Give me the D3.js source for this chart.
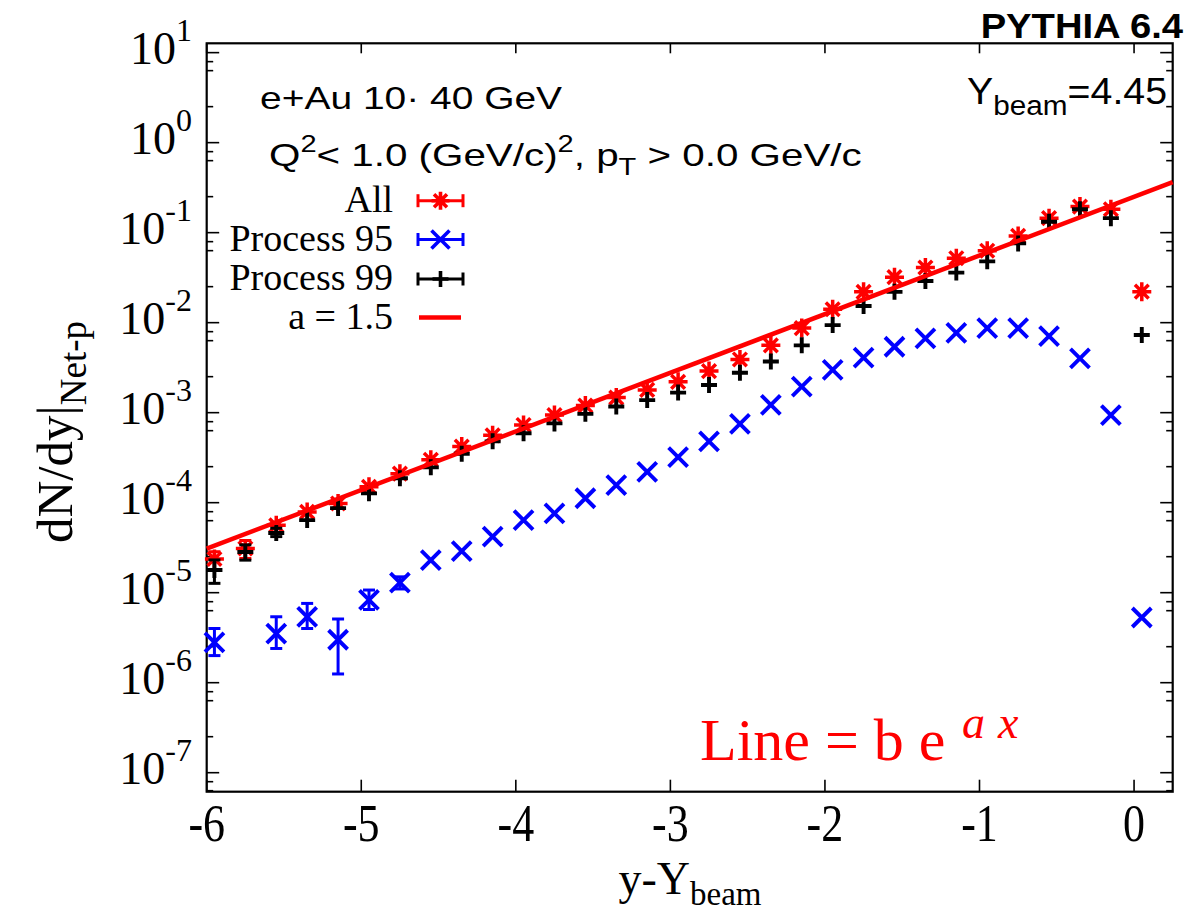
<!DOCTYPE html>
<html>
<head>
<meta charset="utf-8">
<script src="https://cdn.jsdelivr.net/npm/d3@7"></script>
<style>
  html, body { margin: 0; padding: 0; background: #fff; }
  svg { display: block; }
</style>
</head>
<body>
<svg id="chart" width="1188" height="913"></svg>
<script>
// ---------------- data ----------------
const xVals = [-5.95, -5.75, -5.55, -5.35, -5.15, -4.95, -4.75, -4.55, -4.35, -4.15,
               -3.95, -3.75, -3.55, -3.35, -3.15, -2.95, -2.75, -2.55, -2.35, -2.15,
               -1.95, -1.75, -1.55, -1.35, -1.15, -0.95, -0.75, -0.55, -0.35, -0.15, 0.05];

const allVals = [2.37e-5, 3.1e-5, 5.6e-5, 7.9e-5, 9.8e-5, 1.5e-4, 2.1e-4, 3.0e-4, 4.2e-4, 5.6e-4,
                 7.3e-4, 9.4e-4, 1.2e-3, 1.47e-3, 1.79e-3, 2.2e-3, 2.9e-3, 3.9e-3, 5.6e-3, 8.7e-3,
                 1.41e-2, 2.2e-2, 3.2e-2, 4.1e-2, 5.2e-2, 6.3e-2, 9.2e-2, 0.145, 0.195, 0.182, 0.0221];
const allLo = [1.8e-5, 2.4e-5, null, null, null, null, null, null, null, null,
               null, null, null, null, null, null, null, null, null, null,
               null, null, null, null, null, null, null, null, null, null, null];
const allHi = [2.85e-5, 3.8e-5, null, null, null, null, null, null, null, null,
               null, null, null, null, null, null, null, null, null, null,
               null, null, null, null, null, null, null, null, null, null, null];

const p95Vals = [2.8e-6, null, 3.5e-6, 5.4e-6, 3.0e-6, 8.3e-6, 1.29e-5, 2.3e-5, 2.9e-5, 4.2e-5,
                 6.4e-5, 7.6e-5, 1.12e-4, 1.57e-4, 2.2e-4, 3.2e-4, 4.8e-4, 7.5e-4, 1.22e-3, 1.95e-3,
                 2.98e-3, 4.1e-3, 5.4e-3, 6.7e-3, 7.7e-3, 8.7e-3, 8.7e-3, 7.1e-3, 4.0e-3, 9.4e-4, 5.3e-6];
const p95Lo = [2.0e-6, null, 2.4e-6, 4.0e-6, 1.25e-6, 6.5e-6, 1.1e-5, null, null, null,
               null, null, null, null, null, null, null, null, null, null,
               null, null, null, null, null, null, null, null, null, null, null];
const p95Hi = [4.0e-6, null, 5.4e-6, 7.6e-6, 5.1e-6, 1.07e-5, 1.5e-5, null, null, null,
               null, null, null, null, null, null, null, null, null, null,
               null, null, null, null, null, null, null, null, null, null, null];

const p99Vals = [1.79e-5, 2.83e-5, 4.6e-5, 6.4e-5, 8.7e-5, 1.27e-4, 1.87e-4, 2.47e-4, 3.5e-4, 4.8e-4,
                 5.9e-4, 7.6e-4, 9.7e-4, 1.17e-3, 1.38e-3, 1.67e-3, 2.03e-3, 2.78e-3, 3.7e-3, 5.6e-3,
                 9.4e-3, 1.53e-2, 2.2e-2, 2.9e-2, 3.6e-2, 4.8e-2, 7.6e-2, 0.132, 0.182, 0.145, 7.3e-3];
const p99Lo = [1.27e-5, 2.3e-5, 4.2e-5, null, null, null, null, null, null, null,
               null, null, null, null, null, null, null, null, null, null,
               null, null, null, null, null, null, null, null, null, null, null];
const p99Hi = [2.31e-5, 3.4e-5, 5.2e-5, null, null, null, null, null, null, null,
               null, null, null, null, null, null, null, null, null, null,
               null, null, null, null, null, null, null, null, null, null, null];

const fitA = 1.5, fitB = 0.25;
const xTicks = [-6, -5, -4, -3, -2, -1, 0];
const yDecades = [-7, -6, -5, -4, -3, -2, -1, 0, 1];
const minorOffsets = [-0.1, -0.2, -0.6];
const legendLabels = ["All", "Process 95", "Process 99", "a = 1.5"];

// ---------------- layout ----------------
const L = 206.7, R = 1172.7, T = 43.3, B = 791.7;
const x = d3.scaleLinear().domain([-6, 0.25]).range([L, R]);
const y = d3.scaleLog().domain([6.15e-8, 12.7]).range([B, T]);

const svg = d3.select("#chart");
svg.append("rect").attr("width", 1188).attr("height", 913).attr("fill", "#fff");

const serif = "'Liberation Serif', 'Times New Roman', serif";
const sans = "'Liberation Sans', Arial, Helvetica, sans-serif";

// ---------------- ticks ----------------
const tickG = svg.append("g").attr("stroke", "#000").attr("stroke-width", 1.6);
xTicks.forEach(t => {
  tickG.append("line").attr("x1", x(t)).attr("x2", x(t)).attr("y1", B).attr("y2", B - 12);
  tickG.append("line").attr("x1", x(t)).attr("x2", x(t)).attr("y1", T).attr("y2", T + 10);
});
yDecades.forEach(e => {
  const v = Math.pow(10, e);
  if (v >= y.domain()[0] && v <= y.domain()[1]) {
    tickG.append("line").attr("x1", L).attr("x2", L + 12.5).attr("y1", y(v)).attr("y2", y(v));
    tickG.append("line").attr("x1", R).attr("x2", R - 12.5).attr("y1", y(v)).attr("y2", y(v));
  }
});
[-7, -6, -5, -4, -3, -2, -1, 0, 1, 2].forEach(e => {
  minorOffsets.forEach(o => {
    const v = Math.pow(10, e + o);
    if (v > y.domain()[0] && v < y.domain()[1]) {
      tickG.append("line").attr("x1", L).attr("x2", L + 6.5).attr("y1", y(v)).attr("y2", y(v));
      tickG.append("line").attr("x1", R).attr("x2", R - 6.5).attr("y1", y(v)).attr("y2", y(v));
    }
  });
});

// tick labels
xTicks.forEach(t => {
  svg.append("g").attr("transform", `translate(${x(t)},840.5) scale(1,1.22)`)
    .append("text").attr("x", 0).attr("y", 0)
    .attr("text-anchor", "middle").attr("font-family", serif).attr("font-size", 44)
    .text(t === 0 ? "0" : "-" + Math.abs(t));
});
yDecades.forEach(e => {
  const v = Math.pow(10, e);
  const t = svg.append("text").attr("x", 192).attr("y", y(v) + 11.5)
    .attr("text-anchor", "end").attr("font-family", serif).attr("font-size", 46);
  t.append("tspan").text("10");
  t.append("tspan").attr("font-size", 32).attr("dy", -23).text(String(e));
});

// ---------------- frame ----------------
svg.append("rect").attr("x", L).attr("y", T).attr("width", R - L).attr("height", B - T)
  .attr("fill", "none").attr("stroke", "#000").attr("stroke-width", 2.2);

// ---------------- markers ----------------
function markerPath(kind, s) {
  if (kind === "star") {
    const d = s * 0.72;
    return `M${-s},0H${s}M0,${-s}V${s}M${-d},${-d}L${d},${d}M${-d},${d}L${d},${-d}`;
  } else if (kind === "x") {
    return `M${-s},${-s}L${s},${s}M${-s},${s}L${s},${-s}`;
  }
  return `M${-s},0H${s}M0,${-s}V${s}`;
}

const plotG = svg.append("g");
function drawSeries(vals, lo, hi, color, kind, size, sw) {
  const g = plotG.append("g").attr("stroke", color).attr("fill", "none");
  xVals.forEach((xv, i) => {
    const v = vals[i];
    if (v == null) return;
    if (lo[i] != null && hi[i] != null) {
      g.append("line").attr("x1", x(xv)).attr("x2", x(xv))
        .attr("y1", y(lo[i])).attr("y2", y(hi[i])).attr("stroke-width", 3);
      [lo[i], hi[i]].forEach(b => {
        g.append("line").attr("x1", x(xv) - 6).attr("x2", x(xv) + 6)
          .attr("y1", y(b)).attr("y2", y(b)).attr("stroke-width", 3);
      });
    }
    g.append("path").attr("d", markerPath(kind, size))
      .attr("transform", `translate(${x(xv)},${y(v)})`).attr("stroke-width", sw);
  });
}
drawSeries(allVals, allLo, allHi, "#ff0000", "star", 9.5, 3.5);
drawSeries(p95Vals, p95Lo, p95Hi, "#0000ff", "x", 9.5, 3.9);
drawSeries(p99Vals, p99Lo, p99Hi, "#000000", "plus", 8, 3.9);

// fit line
const fitX = [-6, 0.25];
svg.append("path")
  .attr("d", d3.line().x(d => x(d)).y(d => y(fitB * Math.exp(fitA * d)))(fitX))
  .attr("stroke", "#ff0000").attr("stroke-width", 4.5).attr("fill", "none");

// ---------------- legend ----------------
const legBase = [211.7, 250.5, 290, 328.5];
const legColors = ["#ff0000", "#0000ff", "#000000", "#ff0000"];
const legKinds = ["star", "x", "plus", "line"];
legendLabels.forEach((lab, i) => {
  svg.append("text").attr("x", 393).attr("y", legBase[i]).attr("text-anchor", "end")
    .attr("font-family", serif).attr("font-size", 38).text(lab);
  const cy = legBase[i] - 11;
  const g = svg.append("g").attr("stroke", legColors[i]).attr("fill", "none");
  if (legKinds[i] === "line") {
    g.append("line").attr("x1", 419).attr("x2", 461).attr("y1", cy).attr("y2", cy).attr("stroke-width", 4.5);
  } else {
    g.append("line").attr("x1", 418).attr("x2", 463).attr("y1", cy).attr("y2", cy).attr("stroke-width", 3);
    [418, 463].forEach(cx => g.append("line").attr("x1", cx).attr("x2", cx)
      .attr("y1", cy - 6.5).attr("y2", cy + 6.5).attr("stroke-width", 3));
    g.append("path").attr("d", markerPath(legKinds[i], legKinds[i] === "plus" ? 8 : 9))
      .attr("transform", `translate(440.5,${cy})`).attr("stroke-width", 3.6);
  }
});

// ---------------- annotations (sans texts stretched to reference widths) ----------------
function stretchedText(x0, y0, anchor, size, targetW, build, weight) {
  const g = svg.append("g").attr("transform", `translate(${x0},${y0})`);
  const t = g.append("text").attr("x", 0).attr("y", 0).attr("text-anchor", anchor)
    .attr("font-family", sans).attr("font-size", size)
    .attr("font-weight", weight || "normal");
  build(t);
  const w = t.node().getBBox().width;
  const sx = w > 0 ? targetW / w : 1;
  g.attr("transform", `translate(${x0},${y0}) scale(${sx},1)`);
  return t;
}

stretchedText(1183, 38, "end", 35, 203, t => t.text("PYTHIA 6.4"), "bold");

stretchedText(1167, 103.5, "end", 37, 200, t => {
  t.append("tspan").text("Y");
  t.append("tspan").attr("font-size", 28).attr("dy", 11).text("beam");
  t.append("tspan").attr("dy", -11).text("=4.45");
});

stretchedText(260, 108.5, "start", 32, 303, t => t.text("e+Au 10\u00B7 40 GeV"));

stretchedText(269, 165.5, "start", 32, 593, t => {
  t.append("tspan").text("Q");
  t.append("tspan").attr("font-size", 23).attr("dy", -14).text("2");
  t.append("tspan").attr("dy", 14).text("< 1.0 (GeV/c)");
  t.append("tspan").attr("font-size", 23).attr("dy", -14).text("2");
  t.append("tspan").attr("dy", 14).text(", p");
  t.append("tspan").attr("font-size", 23).attr("dy", 9).text("T");
  t.append("tspan").attr("dy", -9).text(" > 0.0 GeV/c");
});

// axis titles
const xt = svg.append("text").attr("x", 690).attr("y", 894).attr("text-anchor", "middle")
  .attr("font-family", serif).attr("font-size", 46);
xt.append("tspan").text("y-Y");
xt.append("tspan").attr("font-size", 33).attr("dy", 11).text("beam");

const ytG = svg.append("g").attr("transform", "translate(72,432) rotate(-90)");
const yt = ytG.append("text").attr("x", 0).attr("y", 0).attr("text-anchor", "middle")
  .attr("font-family", serif).attr("font-size", 51);
yt.append("tspan").text("dN/dy|");
yt.append("tspan").attr("font-size", 37).attr("dy", 14).text("Net-p");

// Line = b e^{a x}
const ln = svg.append("text").attr("x", 700).attr("y", 760)
  .attr("font-family", serif).attr("font-size", 60).attr("fill", "#ff0000");
ln.append("tspan").text("Line = b e");
const sup = svg.append("text").attr("y", 738)
  .attr("font-family", serif).attr("font-size", 46).attr("font-style", "italic").attr("fill", "#ff0000");
sup.append("tspan").attr("x", 962).text("a");
sup.append("tspan").attr("x", 998).text("x");
</script>
</body>
</html>
